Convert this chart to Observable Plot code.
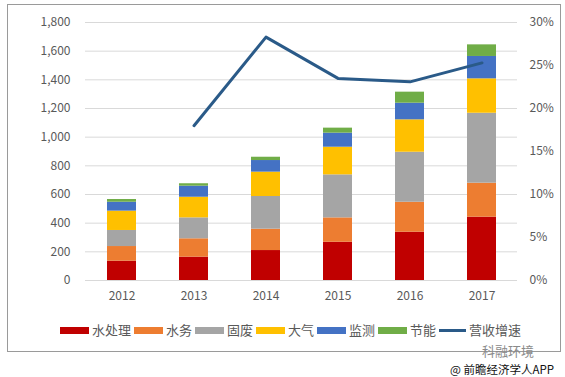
<!DOCTYPE html>
<html>
<head>
<meta charset="utf-8">
<script src="https://cdn.jsdelivr.net/npm/d3@7"></script>
<script src="https://cdn.jsdelivr.net/npm/@observablehq/plot@0.6"></script>
<style>
  html, body { margin: 0; padding: 0; background: #fff; }
  #wrap { position: relative; width: 565px; height: 377px; overflow: hidden; font-family: "Noto Sans CJK SC", "Noto Sans", sans-serif; }
  #chart { position: absolute; left: 0; top: 0; }
  #frame { position: absolute; left: 7px; top: 4px; width: 552px; height: 346px; border: 1px solid #9a9a9a; pointer-events: none; }
  #legend { position: absolute; left: 60px; top: 323px; display: flex; align-items: center; font-size: 13px; line-height: 14px; color: #595959; white-space: nowrap; }
  .item { display: flex; align-items: center; margin-right: 3px; }
  .sw { width: 29px; height: 7px; margin-right: 3px; }
  .ln { width: 27px; height: 3px; margin-right: 3px; }
  #wm1 { position: absolute; left: 482px; top: 344px; font-size: 13px; color: #8a8a8a; line-height: 13px; white-space: nowrap; }
  #wm2 { position: absolute; left: 450px; top: 364px; font-size: 11.5px; color: #111; line-height: 11.5px; white-space: nowrap; }
</style>
</head>
<body>
<div id="wrap">
  <div id="chart"></div>
  <div id="frame"></div>
  <div id="legend"></div>
  <div id="wm1">科融环境</div>
  <div id="wm2">@ 前瞻经济学人APP</div>
</div>
<script>
const years = ["2012", "2013", "2014", "2015", "2016", "2017"];
const seriesNames = ["水处理", "水务", "固废", "大气", "监测", "节能"];
const seriesColors = ["#C00000", "#ED7D31", "#A5A5A5", "#FFC000", "#4472C4", "#70AD47"];
const waterTreatment = [135, 163, 209, 267, 337, 442];
const waterService = [102, 128, 149, 170, 209, 237];
const solidWaste = [112, 146, 228, 300, 349, 488];
const atmosphere = [135, 144, 170, 193, 226, 240];
const monitoring = [62, 77, 81, 98, 116, 156];
const energySaving = [19, 17, 23, 35, 77, 81];
const lineName = "营收增速";
const lineColor = "#2A5A88";
const growthYears = ["2013", "2014", "2015", "2016", "2017"];
const growth = [18.0, 28.3, 23.5, 23.1, 25.3];
const leftTicks = [0, 200, 400, 600, 800, 1000, 1200, 1400, 1600, 1800];
const rightTicks = [0, 5, 10, 15, 20, 25, 30];

const seriesValues = [waterTreatment, waterService, solidWaste, atmosphere, monitoring, energySaving];
const barData = [];
seriesNames.forEach((s, si) => {
  years.forEach((y, yi) => barData.push({ year: y, series: s, value: seriesValues[si][yi] }));
});
const ratio = 1800 / 30;
const lineData = growthYears.map((y, i) => ({ year: y, v: growth[i] * ratio }));

const plot = Plot.plot({
  width: 565,
  height: 377,
  marginTop: 22,
  marginBottom: 97,
  marginLeft: 85,
  marginRight: 48,
  style: { fontFamily: "'Noto Sans CJK SC', 'Noto Sans', sans-serif", fontSize: "12px", color: "#595959", background: "transparent" },
  x: { domain: years, paddingInner: 0.6, paddingOuter: 0.3, label: null },
  y: { domain: [0, 1800], label: null },
  color: { domain: seriesNames, range: seriesColors },
  marks: [
    Plot.ruleY(leftTicks, { stroke: "#d9d9d9", strokeWidth: 1 }),
    Plot.barY(barData, { x: "year", y: "value", fill: "series", order: seriesNames }),
    Plot.line(lineData, { x: "year", y: "v", stroke: lineColor, strokeWidth: 3 }),
    Plot.axisY(leftTicks, { anchor: "left", tickSize: 0, tickPadding: 15, tickFormat: d3.format(","), label: null }),
    Plot.axisY(rightTicks.map(p => p * ratio), { anchor: "right", tickSize: 0, tickPadding: 12, tickFormat: v => Math.round(v / ratio) + "%", label: null }),
    Plot.axisX({ tickSize: 0, tickPadding: 11, label: null })
  ]
});
document.getElementById("chart").appendChild(plot);

const legend = document.getElementById("legend");
seriesNames.forEach((s, i) => {
  const it = document.createElement("div");
  it.className = "item";
  it.innerHTML = `<div class="sw" style="background:${seriesColors[i]}"></div><span>${s}</span>`;
  legend.appendChild(it);
});
const li = document.createElement("div");
li.className = "item";
li.innerHTML = `<div class="ln" style="background:${lineColor}"></div><span>${lineName}</span>`;
legend.appendChild(li);
</script>
</body>
</html>
